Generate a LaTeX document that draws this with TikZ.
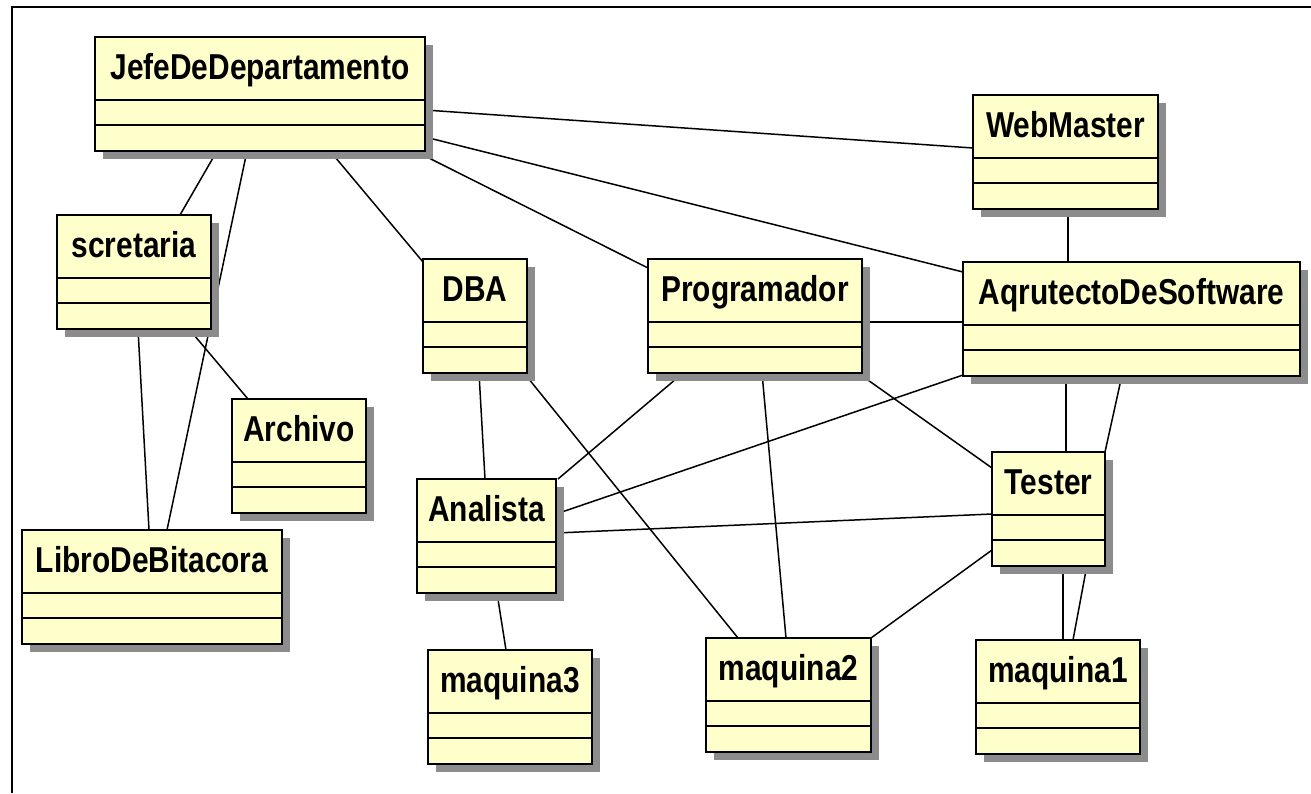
\documentclass[tikz,border=0pt]{standalone}
\usepackage{fontspec}
\newfontfamily\clsfont{Liberation Sans}[FakeStretch=0.83]
\usetikzlibrary{calc}
\pgfdeclarelayer{background}
\pgfdeclarelayer{paper}
\pgfsetlayers{paper,background,main}
\definecolor{clsfill}{RGB}{255,255,204}
\definecolor{shadowc}{RGB}{140,140,140}
\tikzset{
  clsbox/.style={draw=black, line width=2.6pt, fill=clsfill, inner sep=0pt, outer sep=0pt, anchor=north west, minimum height=114pt},
  clstext/.style={font=\clsfont\bfseries\fontsize{36}{40}\selectfont, inner sep=0pt, anchor=base},
  divider/.style={line width=2.2pt},
  assoc/.style={line width=1.5pt},
  thickassoc/.style={line width=2.5pt},
  framel/.style={line width=2pt}
}
\newcommand\umlclass[5]{%
  \fill[shadowc] (#2+8,#3+8) rectangle (#2+#4+8,#3+122);
  \node[clsbox, minimum width=#4pt] (#1) at (#2,#3) {};
  \draw[divider] ($(#1.north west)+(0,63)$) -- ($(#1.north east)+(0,63)$);
  \draw[divider] ($(#1.north west)+(0,88)$) -- ($(#1.north east)+(0,88)$);
  \node[clstext] (#1-t) at ($(#1.north)+(0,42)$) {#5};
}
\begin{document}
\begin{tikzpicture}[x=1pt,y=-1pt]
\useasboundingbox (0,0) rectangle (1311,793);
\begin{pgfonlayer}{paper}
\fill[white] (0,0) rectangle (1311,793);
\end{pgfonlayer}
\draw[framel] (12,793) coordinate (fbl) -- (12,7) coordinate (ftl) -- (1311,7) coordinate (ftr);

\umlclass{jefe}{95}{37}{330}{JefeDeDepartamento}
\umlclass{scr}{57}{215}{154}{scretaria}
\umlclass{arch}{232}{399}{134}{Archivo}
\umlclass{libro}{22}{530}{260}{LibroDeBitacora}
\umlclass{dba}{423}{259}{104}{DBA}
\umlclass{prog}{648}{259}{214}{Programador}
\umlclass{web}{973}{95}{185}{WebMaster}
\umlclass{aq}{963}{262}{337}{AqrutectoDeSoftware}
\umlclass{tester}{992}{452}{113}{Tester}
\umlclass{m1}{976}{640}{164}{maquina1}
\umlclass{ana}{417}{479}{139}{Analista}
\umlclass{m3}{428}{650}{164}{maquina3}
\umlclass{m2}{706}{638}{165}{maquina2}

\begin{pgfonlayer}{background}
\draw[assoc] ($(jefe.north west)+(330,73)$) -- ($(web.north west)+(0,53)$);
\draw[assoc] ($(jefe.north west)+(330,100)$) -- ($(aq.north west)+(0,10)$);
\draw[assoc] ($(jefe.north west)+(320,114)$) -- ($(prog.north west)+(0,9)$);
\draw[assoc] ($(jefe.north west)+(235,114)$) -- ($(dba.north west)+(0,3)$);
\draw[assoc] ($(jefe.north west)+(122,114)$) -- ($(scr.north west)+(123,0)$);
\draw[assoc] ($(jefe.north west)+(152,114)$) -- ($(libro.north west)+(145,0)$);
\draw[assoc] ($(scr.north west)+(81,114)$) -- ($(libro.north west)+(127,0)$);
\draw[assoc] ($(scr.north west)+(132,114)$) -- ($(arch.north west)+(16,0)$);
\draw[assoc] ($(web.north west)+(95,113)$) -- ($(aq.north west)+(105,0)$);
\draw[assoc] ($(prog.north west)+(214,63)$) -- ($(aq.north west)+(0,60)$);
\draw[assoc] ($(prog.north west)+(35,114)$) -- ($(ana.north west)+(141,0)$);
\draw[assoc] ($(prog.north west)+(114,114)$) -- ($(m2.north west)+(80,0)$);
\draw[assoc] ($(prog.north west)+(210,114)$) -- ($(tester.north west)+(0,16)$);
\draw[assoc] ($(aq.north west)+(0,113)$) -- ($(ana.north west)+(139,35)$);
\draw[assoc] ($(aq.north west)+(103,113)$) -- ($(tester.north west)+(74,0)$);
\draw[assoc] ($(aq.north west)+(159,113)$) -- ($(tester.north west)+(113,0)$);
\draw[assoc] ($(ana.north west)+(139,54)$) -- ($(tester.north west)+(0,62)$);
\draw[assoc] ($(tester.north west)+(0,98)$) -- ($(m2.north west)+(165,0)$);
\draw[thickassoc] ($(tester.north west)+(71,113)$) -- ($(m1.north west)+(87,0)$);
\draw[assoc] ($(tester.north west)+(95,113)$) -- ($(m1.north west)+(97,0)$);
\draw[assoc] ($(dba.north west)+(56,114)$) -- ($(ana.north west)+(68,0)$);
\draw[assoc] ($(dba.north west)+(101,114)$) -- ($(m2.north west)+(32,0)$);
\draw[assoc] ($(ana.north west)+(80,114)$) -- ($(m3.north west)+(78,0)$);
\end{pgfonlayer}
\end{tikzpicture}
\end{document}
